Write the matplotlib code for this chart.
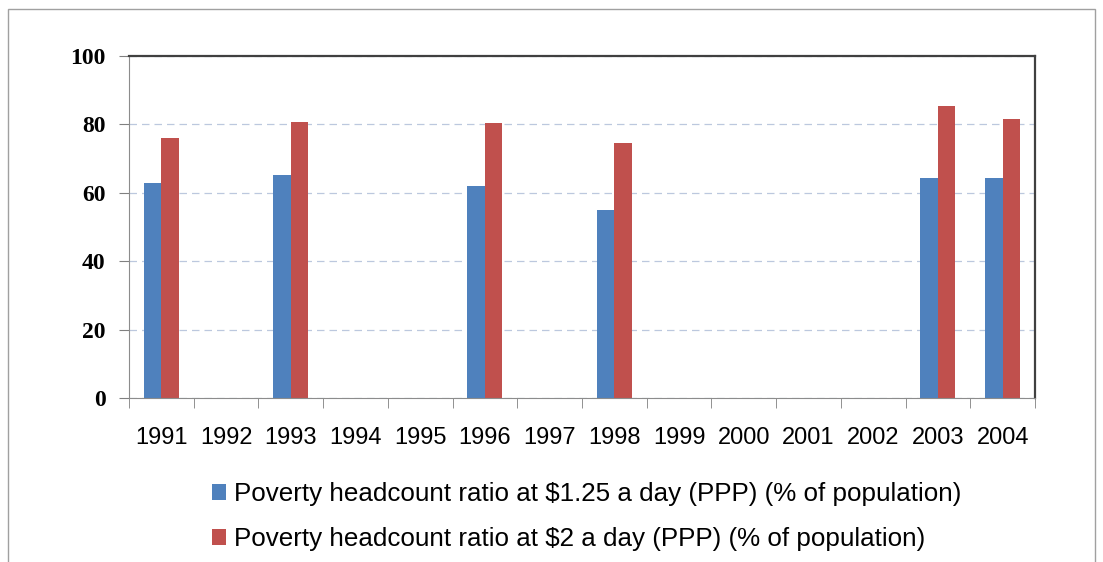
import matplotlib.pyplot as plt
from matplotlib.patches import Rectangle
import numpy as np

years = ['1991', '1992', '1993', '1994', '1995', '1996', '1997', '1998',
         '1999', '2000', '2001', '2002', '2003', '2004']
ratio_125 = [63.0, np.nan, 65.2, np.nan, np.nan, 62.1, np.nan, 55.1,
             np.nan, np.nan, np.nan, np.nan, 64.2, 64.2]
ratio_2 = [76.1, np.nan, 80.6, np.nan, np.nan, 80.5, np.nan, 74.7,
           np.nan, np.nan, np.nan, np.nan, 85.3, 81.6]
label_125 = 'Poverty headcount ratio at $1.25 a day (PPP) (% of population)'
label_2 = 'Poverty headcount ratio at $2 a day (PPP) (% of population)'
y_ticks = [0, 20, 40, 60, 80, 100]

blue = '#4f81bd'
red = '#c0504d'
sans = ['Liberation Sans', 'DejaVu Sans']
serif = ['Liberation Serif', 'DejaVu Serif']

fig = plt.figure(figsize=(11.03, 5.62), dpi=100)
# outer chart border
fig.patches.append(Rectangle((8 / 1103, -0.05), 1087 / 1103, 1.05 - 9 / 562,
                             transform=fig.transFigure, fill=False,
                             edgecolor='#a0a0a0', linewidth=1.0))

ax = fig.add_axes([129 / 1103, 1 - 398 / 562, 906 / 1103, 342 / 562])
x = np.arange(len(years))
w = 0.27
ax.bar(x - w / 2, ratio_125, width=w, color=blue, label=label_125)
ax.bar(x + w / 2, ratio_2, width=w, color=red, label=label_2)

ax.set_xlim(-0.5, len(years) - 0.5)
ax.set_ylim(0, 100)
ax.set_yticks(y_ticks)
ax.set_yticklabels([str(v) for v in y_ticks], fontfamily=serif,
                   fontweight='bold', fontsize=17)
ax.set_xticks(x)
ax.set_xticklabels(years, fontfamily=sans, fontsize=17)
ax.set_xticks(np.arange(-0.5, len(years)), minor=True)
ax.tick_params(axis='x', which='major', length=0, pad=21)
ax.tick_params(axis='x', which='minor', length=7, color='#808080', direction='out')
ax.tick_params(axis='y', length=7, color='#808080', pad=10)

ax.yaxis.grid(True, linestyle=(0, (6, 4)), color='#bcc8de', linewidth=0.9)
ax.set_axisbelow(True)
for side in ['left', 'bottom']:
    ax.spines[side].set_color('#8c8c8c')
for side in ['top', 'right']:
    ax.spines[side].set_color('#404040')
    ax.spines[side].set_linewidth(1.6)

fig.legend(loc='center', bbox_to_anchor=(0.532, 0.081), ncol=1, frameon=False,
           prop={'family': sans, 'size': 18.7}, handlelength=0.55, handleheight=0.55,
           handletextpad=0.3, labelspacing=0.8)

fig.savefig('out.png', dpi=100)
